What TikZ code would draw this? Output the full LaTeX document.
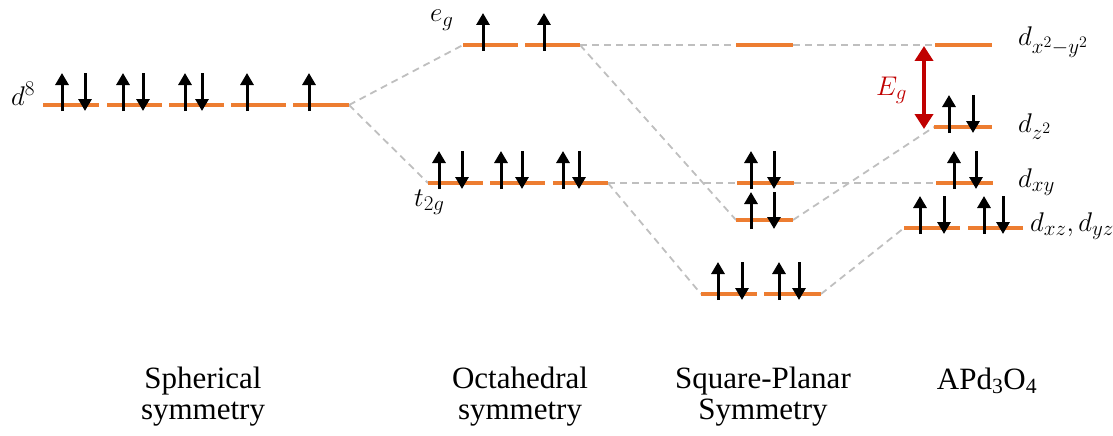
\RequirePackage{fix-cm}
\documentclass[tikz,border=0pt]{standalone}
\usepackage{fontspec}
\setmainfont{Liberation Serif}
\usetikzlibrary{arrows.meta}
\DeclareMathSizes{27}{27}{21}{16}
\definecolor{lvlorange}{HTML}{ED7D31}
\definecolor{dgray}{HTML}{BFBFBF}
\definecolor{egred}{HTML}{C00000}
\newcommand{\lev}[4]{\coordinate (#1-l) at (#2,#4); \coordinate (#1-r) at (#3,#4);}
\newcommand{\spinup}[2]{\draw[spin] (#1,#2+6) -- (#1,#2-32);}
\newcommand{\spindn}[2]{\draw[spin] (#1,#2-32) -- (#1,#2+6);}
\begin{document}
\begin{tikzpicture}[x=1pt,y=-1pt,
  lvl/.style={draw=lvlorange, line width=3.3pt},
  conn/.style={draw=dgray, line width=1.8pt, dash pattern=on 7pt off 5pt},
  spin/.style={line width=3pt, -{Triangle[length=12pt,width=13pt]}},
  egarrow/.style={draw=egred, line width=4pt, {Triangle[length=15pt,width=18pt]}-{Triangle[length=15pt,width=18pt]}},
  lbl/.style={font=\fontsize{27}{32}\selectfont, inner sep=0pt},
  caption/.style={font=\fontsize{31}{31}\selectfont, align=center, inner sep=0pt}]
\useasboundingbox (0,0) rectangle (1113,436);
% level coordinates
\lev{s1}{43}{99}{105}
\lev{s2}{107}{162}{105}
\lev{s3}{169}{224}{105}
\lev{s4}{231}{286}{105}
\lev{s5}{293}{349}{105}
\lev{eg1}{463}{518}{45}
\lev{eg2}{525}{580}{45}
\lev{t1}{428}{483}{183}
\lev{t2}{490}{545}{183}
\lev{t3}{553}{608}{183}
\lev{sptop}{736}{793}{45}
\lev{spxy}{737}{794}{183}
\lev{spmid}{736}{793}{220}
\lev{spb1}{701}{757}{294}
\lev{spb2}{764}{821}{294}
\lev{aptop}{935}{992}{45}
\lev{apz}{934}{992}{127}
\lev{apxy}{936}{993}{183}
\lev{apxz1}{904}{960}{228}
\lev{apxz2}{968}{1023}{228}
% dashed connectors
\draw[conn] (s5-r) -- (eg1-l);
\draw[conn] (s5-r) -- (t1-l);
\draw[conn] (eg2-r) -- (sptop-l);
\draw[conn] (eg2-r) -- (spmid-l);
\draw[conn] (t3-r) -- (spxy-l);
\draw[conn] (t3-r) -- (spb1-l);
\draw[conn] (sptop-r) -- (aptop-l);
\draw[conn] (spmid-r) -- (apz-l);
\draw[conn] (spxy-r) -- (apxy-l);
\draw[conn] (spb2-r) -- (apxz1-l);
% levels
\foreach \n in {s1,s2,s3,s4,s5,eg1,eg2,t1,t2,t3,sptop,spxy,spmid,spb1,spb2,aptop,apz,apxy,apxz1,apxz2}
  \draw[lvl] (\n-l) -- (\n-r);
% spins
\spinup{62}{105}\spindn{85}{105}
\spinup{123}{105}\spindn{143}{105}
\spinup{185}{105}\spindn{202}{105}
\spinup{247}{105}
\spinup{309}{105}
\spinup{483}{45}
\spinup{544}{45}
\spinup{439}{183}\spindn{462}{183}
\spinup{501}{183}\spindn{522}{183}
\spinup{563}{183}\spindn{579}{183}
\spinup{751}{183}\spindn{774}{183}
\draw[spin] (751,229) -- (751,192);
\draw[spin] (774,192) -- (774,229);
\spinup{718}{294}\spindn{742}{294}
\spinup{779}{294}\spindn{799}{294}
\spinup{949}{127}\spindn{973}{127}
\spinup{954}{183}\spindn{976}{183}
\spinup{920}{228}\spindn{944}{228}
\spinup{984}{228}\spindn{1003}{228}
% band gap
\coordinate (egtop) at (924,46);
\coordinate (egbot) at (924,129);
\draw[egarrow] (egtop) -- (egbot);
\node[lbl, text=egred, anchor=base west] (eglbl) at (876,95) {$E_g$};
% labels
\node[lbl, anchor=base west] (d8) at (11,105) {$d^8$};
\node[lbl, anchor=base west] (eglab) at (430,22) {$e_g$};
\node[lbl, anchor=base west] (t2glab) at (414,206) {$t_{2g}$};
\node[lbl, anchor=base west] (dx2) at (1018,46) {$d_{x^2-y^2}$};
\node[lbl, anchor=base west] (dz2) at (1018,132) {$d_{z^2}$};
\node[lbl, anchor=base west] (dxy) at (1018,187) {$d_{xy}$};
\node[lbl, anchor=base west] (dxz) at (1030,231) {$d_{xz},d_{yz}$};
% captions
\node[caption, anchor=base] (c1) at (203,419) {Spherical\\symmetry};
\node[caption, anchor=base] (c2) at (520,419) {Octahedral\\symmetry};
\node[caption, anchor=base] (c3) at (763,419) {Square-Planar\\Symmetry};
\node[caption, anchor=base] (c4) at (987,389) {APd\textsubscript{3}O\textsubscript{4}};
\end{tikzpicture}
\end{document}
